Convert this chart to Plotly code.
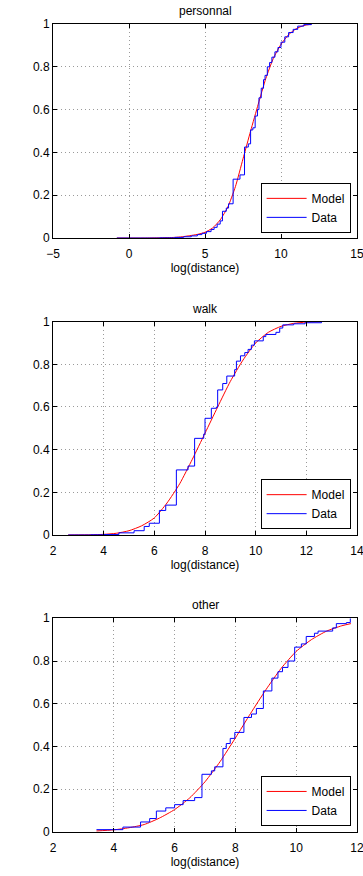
import plotly.graph_objects as go

# ---------------- data ----------------
titles = ["personnal", "walk", "other"]
x_ranges = [[-5, 15], [2, 14], [2, 12]]
x_tickvals = [[-5, 0, 5, 10, 15], [2, 4, 6, 8, 10, 12, 14], [2, 4, 6, 8, 10, 12]]
x_ticktext = [["\u22125", "0", "5", "10", "15"],
              ["2", "4", "6", "8", "10", "12", "14"],
              ["2", "4", "6", "8", "10", "12"]]
y_tickvals = [0, 0.2, 0.4, 0.6, 0.8, 1]
y_ticktext = ["0", "0.2", "0.4", "0.6", "0.8", "1"]

# personnal
pers_model_x = [-0.8, 1, 2, 3, 3.5, 4, 4.5, 5, 5.5, 6, 6.5, 7, 7.5, 8, 8.5, 9, 9.5, 10, 10.5, 11, 11.5, 12]
pers_model_y = [0, 0, 0.001, 0.003, 0.006, 0.011, 0.017, 0.027, 0.047, 0.085, 0.145, 0.24, 0.37, 0.5, 0.625, 0.745, 0.84, 0.905, 0.95, 0.978, 0.993, 0.999]
pers_data_x = [-0.8, 2.0, 3.0, 3.6, 4.1, 4.5, 4.8, 5.1, 5.4, 5.6, 5.8, 6.0, 6.15, 6.4, 6.55, 6.85, 7.3, 7.6,
               7.85, 8.0, 8.15, 8.3, 8.45, 8.55, 8.7, 8.85, 8.95, 9.1, 9.25, 9.4, 9.6, 9.8, 10.0, 10.25,
               10.5, 10.8, 11.1, 11.5, 12.0]
pers_data_y = [0.0, 0.001, 0.003, 0.006, 0.01, 0.016, 0.022, 0.03, 0.04, 0.05, 0.065, 0.08, 0.125, 0.14, 0.16,
               0.275, 0.295, 0.425, 0.44, 0.505, 0.515, 0.57, 0.6, 0.655, 0.7, 0.74, 0.76, 0.8, 0.82, 0.845,
               0.87, 0.89, 0.915, 0.94, 0.96, 0.975, 0.99, 0.997, 1.0]

# walk
walk_model_x = [2.6, 3, 3.5, 4, 4.5, 5, 5.5, 6, 6.5, 7, 7.5, 8, 8.5, 9, 9.5, 10, 10.5, 11, 11.5, 12, 12.6]
walk_model_y = [0, 0.0005, 0.001, 0.003, 0.008, 0.02, 0.043, 0.08, 0.15, 0.24, 0.355, 0.477, 0.6, 0.72, 0.82,
                0.9, 0.95, 0.978, 0.992, 0.998, 1.0]
walk_data_x = [2.6, 3.5, 4.0, 4.6, 5.2, 5.6, 5.8, 6.2, 6.45, 6.87, 7.33, 7.59, 7.95, 8.0, 8.25, 8.45, 8.5,
               8.7, 8.86, 9.17, 9.24, 9.4, 9.57, 9.7, 9.83, 9.95, 10.3, 10.4, 10.8, 10.95, 11.07, 11.5,
               11.95, 12.6]
walk_data_y = [0.0, 0.001, 0.002, 0.01, 0.02, 0.04, 0.055, 0.115, 0.14, 0.305, 0.323, 0.453, 0.473, 0.547,
               0.594, 0.6, 0.68, 0.71, 0.745, 0.775, 0.815, 0.84, 0.855, 0.87, 0.89, 0.91, 0.93, 0.94,
               0.95, 0.97, 0.985, 0.99, 0.995, 1.0]

# other
oth_model_x = [3.43, 4, 4.5, 5, 5.5, 6, 6.5, 7, 7.5, 8, 8.5, 9, 9.5, 10, 10.5, 11, 11.5, 11.8]
oth_model_y = [0.005, 0.01, 0.02, 0.035, 0.065, 0.105, 0.16, 0.235, 0.33, 0.44, 0.555, 0.665, 0.765, 0.845,
               0.9, 0.94, 0.965, 0.975]
oth_data_x = [3.43, 4.30, 4.88, 5.18, 5.40, 5.71, 6.0, 6.28, 6.66, 6.90, 7.21, 7.32, 7.59, 7.70, 7.83, 7.98,
              8.28, 8.53, 8.69, 8.92, 9.2, 9.4, 9.55, 9.73, 9.95, 10.17, 10.33, 10.6, 10.72, 11.2, 11.32,
              11.65, 11.78]
oth_data_y = [0.011, 0.023, 0.047, 0.063, 0.098, 0.113, 0.128, 0.147, 0.161, 0.27, 0.286, 0.305, 0.391,
              0.414, 0.438, 0.466, 0.536, 0.552, 0.578, 0.66, 0.72, 0.75, 0.77, 0.8, 0.865, 0.88, 0.915,
              0.93, 0.94, 0.955, 0.975, 0.98, 1.0]

models = [(pers_model_x, pers_model_y), (walk_model_x, walk_model_y), (oth_model_x, oth_model_y)]
datas = [(pers_data_x, pers_data_y), (walk_data_x, walk_data_y), (oth_data_x, oth_data_y)]

# ---------------- layout geometry ----------------
W, H = 363, 876
ML, MR, MT, MB = 53, 6, 24, 44
y_domains = [[0.7351, 1.0], [0.3676, 0.6316], [0.0, 0.2645]]
legend_y = [0.7415, 0.3748, 0.0075]

FONT = "Liberation Sans, Arial, Helvetica, sans-serif"

fig = go.Figure()
annotations = []
for i in range(3):
    n = "" if i == 0 else str(i + 1)
    leg = "legend" if i == 0 else "legend" + str(i + 1)
    mx, my = models[i]
    dx, dy = datas[i]
    fig.add_trace(go.Scatter(x=mx, y=my, mode="lines", name="Model",
                             line=dict(color="#ff0000", width=1, shape="spline", smoothing=0.6),
                             xaxis="x" + n, yaxis="y" + n, legend=leg))
    fig.add_trace(go.Scatter(x=dx, y=dy, mode="lines", name="Data",
                             line=dict(color="#0000ff", width=1, shape="hv"),
                             xaxis="x" + n, yaxis="y" + n, legend=leg))

    axis_common = dict(showline=True, linecolor="black", linewidth=1, mirror="allticks",
                       ticks="inside", ticklen=4, tickcolor="black", tickwidth=1,
                       showgrid=True, gridcolor="#9a9a9a", gridwidth=1, griddash="1px,3px",
                       zeroline=False, ticklabeloverflow="allow", automargin=False,
                       tickfont=dict(family=FONT, size=12, color="black"))
    fig.update_layout(**{
        "xaxis" + n: dict(domain=[0, 1], range=x_ranges[i], tickvals=x_tickvals[i], ticktext=x_ticktext[i],
                          anchor="y" + n, ticklabelstandoff=5,
                          title=dict(text="log(distance)", font=dict(family=FONT, size=12, color="black"),
                                     standoff=2),
                          **axis_common),
        "yaxis" + n: dict(domain=y_domains[i], range=[0, 1], tickvals=y_tickvals, ticktext=y_ticktext,
                          anchor="x" + n, **axis_common),
        leg: dict(x=0.979, xanchor="right", y=legend_y[i], yanchor="bottom", itemwidth=40,
                  bgcolor="white", bordercolor="black", borderwidth=1,
                  font=dict(family=FONT, size=12, color="black")),
    })
    annotations.append(dict(text=titles[i], xref="paper", yref="paper", x=0.5, y=y_domains[i][1],
                            xanchor="center", yanchor="bottom", yshift=4, showarrow=False,
                            font=dict(family=FONT, size=12, color="black")))

fig.update_layout(width=W, height=H, margin=dict(l=ML, r=MR, t=MT, b=MB, autoexpand=False),
                  paper_bgcolor="white", plot_bgcolor="white", showlegend=True,
                  annotations=annotations, font=dict(family=FONT, size=12, color="black"))

fig.write_html("out.html")
